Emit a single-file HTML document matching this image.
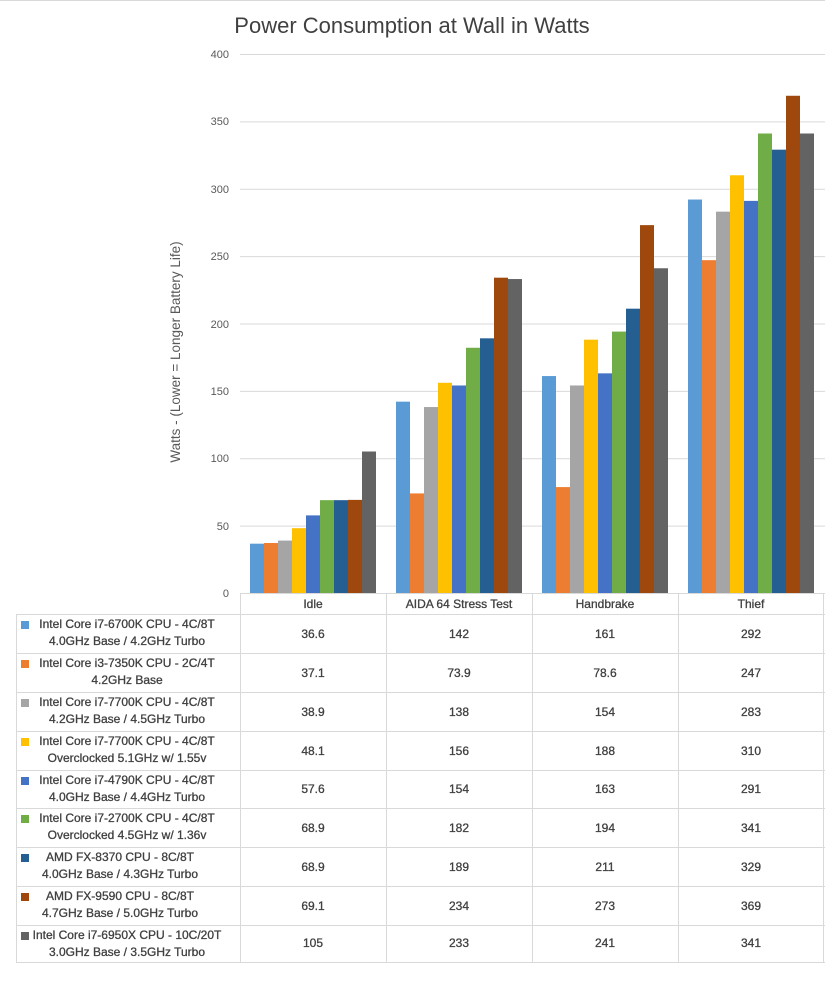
<!DOCTYPE html>
<html><head><meta charset="utf-8"><style>
body{margin:0;background:#fff;}
svg{display:block;font-family:"Liberation Sans",sans-serif;}
</style></head><body>
<svg width="825" height="991" viewBox="0 0 825 991" xmlns="http://www.w3.org/2000/svg">
<rect x="0" y="0" width="825" height="991" fill="#fff"/>
<line x1="0" y1="0.5" x2="825" y2="0.5" stroke="#d9d9d9"/>
<text x="412" y="33" text-anchor="middle" font-size="22" fill="#404040">Power Consumption at Wall in Watts</text>
<g stroke="#d9d9d9" stroke-width="1">
<line x1="240" y1="54.5" x2="825" y2="54.5"/>
<line x1="240" y1="121.9" x2="825" y2="121.9"/>
<line x1="240" y1="189.3" x2="825" y2="189.3"/>
<line x1="240" y1="256.6" x2="825" y2="256.6"/>
<line x1="240" y1="324" x2="825" y2="324"/>
<line x1="240" y1="391.4" x2="825" y2="391.4"/>
<line x1="240" y1="458.8" x2="825" y2="458.8"/>
<line x1="240" y1="526.1" x2="825" y2="526.1"/>
</g>
<g font-size="11" fill="#595959" text-anchor="end">
<text x="229" y="58">400</text><text x="229" y="125">350</text><text x="229" y="193">300</text>
<text x="229" y="260">250</text><text x="229" y="328">200</text><text x="229" y="395">150</text>
<text x="229" y="462">100</text><text x="229" y="530">50</text><text x="229" y="597">0</text>
</g>
<text transform="translate(180,352) rotate(-90)" text-anchor="middle" font-size="13.5" fill="#595959">Watts  - (Lower = Longer Battery Life)</text>
<g transform="translate(0,593) scale(1,-1.3475)">
<rect x="250" y="0" width="14" height="36.6" fill="#5B9BD5"/>
<rect x="264" y="0" width="14" height="37.1" fill="#ED7D31"/>
<rect x="278" y="0" width="14" height="38.9" fill="#A5A5A5"/>
<rect x="292" y="0" width="14" height="48.1" fill="#FFC000"/>
<rect x="306" y="0" width="14" height="57.6" fill="#4472C4"/>
<rect x="320" y="0" width="14" height="68.9" fill="#70AD47"/>
<rect x="334" y="0" width="14" height="68.9" fill="#255E91"/>
<rect x="348" y="0" width="14" height="69.1" fill="#9E480E"/>
<rect x="362" y="0" width="14" height="105" fill="#636363"/>
<rect x="396" y="0" width="14" height="142" fill="#5B9BD5"/>
<rect x="410" y="0" width="14" height="73.9" fill="#ED7D31"/>
<rect x="424" y="0" width="14" height="138" fill="#A5A5A5"/>
<rect x="438" y="0" width="14" height="156" fill="#FFC000"/>
<rect x="452" y="0" width="14" height="154" fill="#4472C4"/>
<rect x="466" y="0" width="14" height="182" fill="#70AD47"/>
<rect x="480" y="0" width="14" height="189" fill="#255E91"/>
<rect x="494" y="0" width="14" height="234" fill="#9E480E"/>
<rect x="508" y="0" width="14" height="233" fill="#636363"/>
<rect x="542" y="0" width="14" height="161" fill="#5B9BD5"/>
<rect x="556" y="0" width="14" height="78.6" fill="#ED7D31"/>
<rect x="570" y="0" width="14" height="154" fill="#A5A5A5"/>
<rect x="584" y="0" width="14" height="188" fill="#FFC000"/>
<rect x="598" y="0" width="14" height="163" fill="#4472C4"/>
<rect x="612" y="0" width="14" height="194" fill="#70AD47"/>
<rect x="626" y="0" width="14" height="211" fill="#255E91"/>
<rect x="640" y="0" width="14" height="273" fill="#9E480E"/>
<rect x="654" y="0" width="14" height="241" fill="#636363"/>
<rect x="688" y="0" width="14" height="292" fill="#5B9BD5"/>
<rect x="702" y="0" width="14" height="247" fill="#ED7D31"/>
<rect x="716" y="0" width="14" height="283" fill="#A5A5A5"/>
<rect x="730" y="0" width="14" height="310" fill="#FFC000"/>
<rect x="744" y="0" width="14" height="291" fill="#4472C4"/>
<rect x="758" y="0" width="14" height="341" fill="#70AD47"/>
<rect x="772" y="0" width="14" height="329" fill="#255E91"/>
<rect x="786" y="0" width="14" height="369" fill="#9E480E"/>
<rect x="800" y="0" width="14" height="341" fill="#636363"/>
</g>
<g stroke="#d9d9d9" stroke-width="1" fill="none">
<line x1="240" y1="593.5" x2="825" y2="593.5"/>
<line x1="16" y1="614.5" x2="825" y2="614.5"/>
<line x1="16" y1="653.5" x2="825" y2="653.5"/>
<line x1="16" y1="692.5" x2="825" y2="692.5"/>
<line x1="16" y1="731.5" x2="825" y2="731.5"/>
<line x1="16" y1="770.5" x2="825" y2="770.5"/>
<line x1="16" y1="808.5" x2="825" y2="808.5"/>
<line x1="16" y1="847.5" x2="825" y2="847.5"/>
<line x1="16" y1="886.5" x2="825" y2="886.5"/>
<line x1="16" y1="925.5" x2="825" y2="925.5"/>
<line x1="16" y1="962.5" x2="825" y2="962.5"/>
<line x1="16.5" y1="614" x2="16.5" y2="963"/>
<line x1="240.5" y1="593" x2="240.5" y2="963"/>
<line x1="386.5" y1="593" x2="386.5" y2="963"/>
<line x1="532.5" y1="593" x2="532.5" y2="963"/>
<line x1="678.5" y1="593" x2="678.5" y2="963"/>
<line x1="823.5" y1="593" x2="823.5" y2="963"/>
</g>
<g font-size="12" fill="#404040" stroke="#404040" stroke-width="0.3" text-anchor="middle">
<text x="313" y="608">Idle</text><text x="459" y="608">AIDA 64 Stress Test</text>
<text x="605" y="608">Handbrake</text><text x="751" y="608">Thief</text>
<text x="313" y="638">36.6</text><text x="459" y="638">142</text><text x="605" y="638">161</text><text x="751" y="638">292</text>
<text x="313" y="677">37.1</text><text x="459" y="677">73.9</text><text x="605" y="677">78.6</text><text x="751" y="677">247</text>
<text x="313" y="716">38.9</text><text x="459" y="716">138</text><text x="605" y="716">154</text><text x="751" y="716">283</text>
<text x="313" y="755">48.1</text><text x="459" y="755">156</text><text x="605" y="755">188</text><text x="751" y="755">310</text>
<text x="313" y="793">57.6</text><text x="459" y="793">154</text><text x="605" y="793">163</text><text x="751" y="793">291</text>
<text x="313" y="832">68.9</text><text x="459" y="832">182</text><text x="605" y="832">194</text><text x="751" y="832">341</text>
<text x="313" y="871">68.9</text><text x="459" y="871">189</text><text x="605" y="871">211</text><text x="751" y="871">329</text>
<text x="313" y="910">69.1</text><text x="459" y="910">234</text><text x="605" y="910">273</text><text x="751" y="910">369</text>
<text x="313" y="947">105</text><text x="459" y="947">233</text><text x="605" y="947">241</text><text x="751" y="947">341</text>
</g>
<g>
<rect x="21" y="621" width="8" height="8" fill="#5B9BD5"/>
<rect x="21" y="660" width="8" height="8" fill="#ED7D31"/>
<rect x="21" y="699" width="8" height="8" fill="#A5A5A5"/>
<rect x="21" y="738" width="8" height="8" fill="#FFC000"/>
<rect x="21" y="777" width="8" height="8" fill="#4472C4"/>
<rect x="21" y="815" width="8" height="8" fill="#70AD47"/>
<rect x="21" y="854" width="8" height="8" fill="#255E91"/>
<rect x="21" y="893" width="8" height="8" fill="#9E480E"/>
<rect x="21" y="932" width="8" height="8" fill="#636363"/>
</g>
<g font-size="12" fill="#404040" stroke="#404040" stroke-width="0.3" text-anchor="middle">
<text x="127" y="628">Intel Core i7-6700K CPU - 4C/8T</text><text x="127" y="645">4.0GHz Base / 4.2GHz Turbo</text>
<text x="127" y="667">Intel Core i3-7350K CPU - 2C/4T</text><text x="127" y="684">4.2GHz Base</text>
<text x="127" y="706">Intel Core i7-7700K CPU - 4C/8T</text><text x="127" y="723">4.2GHz Base / 4.5GHz Turbo</text>
<text x="127" y="745">Intel Core i7-7700K CPU - 4C/8T</text><text x="127" y="762">Overclocked 5.1GHz w/ 1.55v</text>
<text x="127" y="784">Intel Core i7-4790K CPU - 4C/8T</text><text x="127" y="801">4.0GHz Base / 4.4GHz Turbo</text>
<text x="127" y="822">Intel Core i7-2700K CPU - 4C/8T</text><text x="127" y="839">Overclocked 4.5GHz w/ 1.36v</text>
<text x="120" y="861">AMD FX-8370 CPU - 8C/8T</text><text x="120" y="878">4.0GHz Base / 4.3GHz Turbo</text>
<text x="120" y="900">AMD FX-9590 CPU - 8C/8T</text><text x="120" y="917">4.7GHz Base / 5.0GHz Turbo</text>
<text x="127" y="939">Intel Core i7-6950X CPU - 10C/20T</text><text x="127" y="956">3.0GHz Base / 3.5GHz Turbo</text>
</g>
</svg>
</body></html>
